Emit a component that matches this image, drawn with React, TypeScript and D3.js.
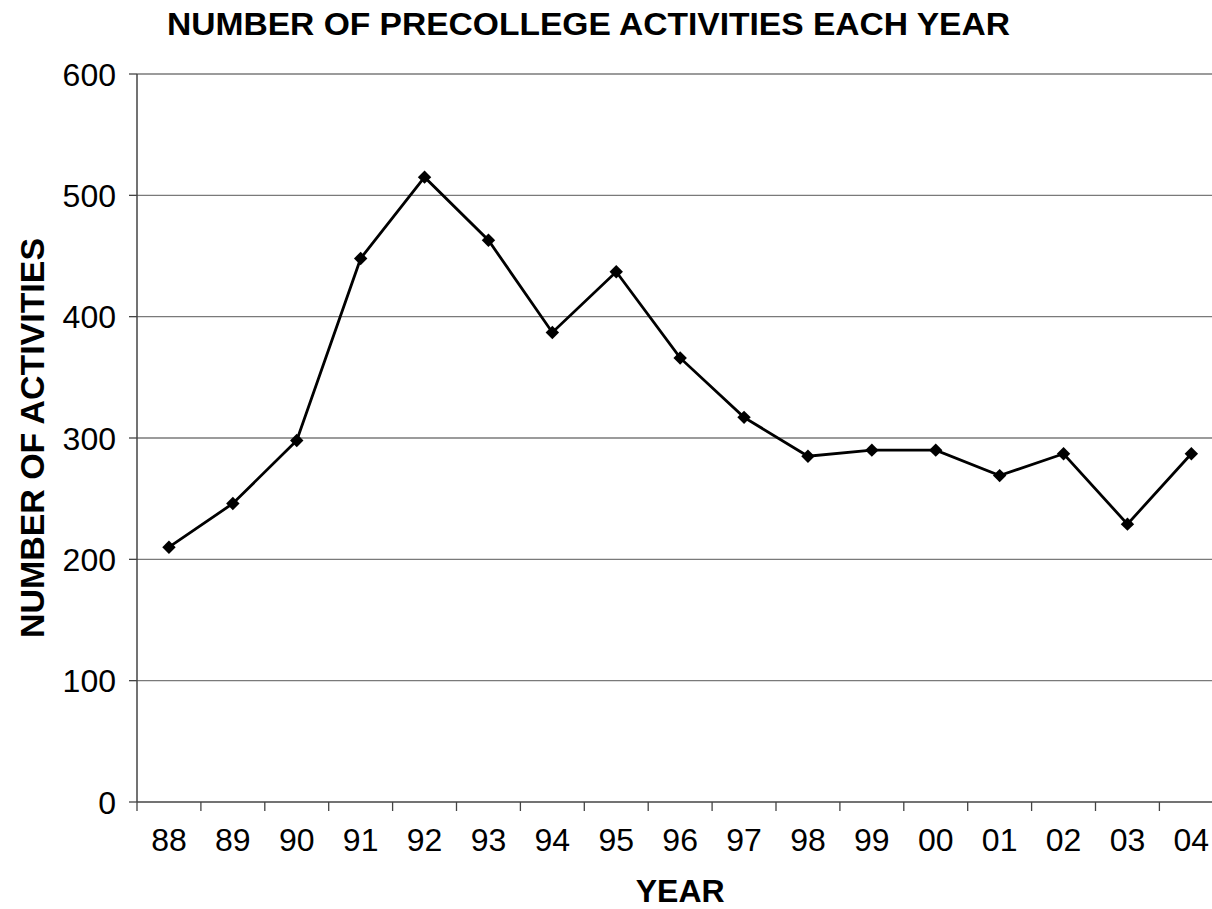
import * as React from "react";
import * as d3 from "d3";

// data
const years: string[] = ["88", "89", "90", "91", "92", "93", "94", "95", "96", "97", "98", "99", "00", "01", "02", "03", "04"];
const activities: number[] = [210, 246, 298, 448, 515, 463, 387, 437, 366, 317, 285, 290, 290, 269, 287, 229, 287];
const yTicks: number[] = [0, 100, 200, 300, 400, 500, 600];

const title = "NUMBER OF PRECOLLEGE ACTIVITIES EACH YEAR";
const xTitle = "YEAR";
const yTitle = "NUMBER OF ACTIVITIES";

const svgWidth = 1212;
const svgHeight = 909;
const left = 137;
const top = 74;
const bottom = 802;
const bandW = 63.9;
const right = left + bandW * years.length;

const font = "'Liberation Sans', Arial, Helvetica, sans-serif";

const xScale = d3.scaleBand<string>().domain(years).range([left, right]).padding(0);
const yScale = d3.scaleLinear().domain([0, 600]).range([bottom, top]);

const line = d3
  .line<number>()
  .x((d, i) => xScale(years[i])! + xScale.bandwidth() / 2)
  .y(d => yScale(d));

const diamond = d3.symbol().type(d3.symbolSquare).size(90)();

export default function App() {
  const bounds = [...years.map(y => xScale(y)!), right];
  return (
    <svg
      width={svgWidth}
      height={svgHeight}
      style={{ position: "absolute", left: 0, top: 0, background: "#fff" }}
      fontFamily={font}
    >
      {/* gridlines */}
      {yTicks.slice(1).map(t => (
        <line key={t} x1={left} x2={right} y1={yScale(t)} y2={yScale(t)} stroke="#7a7a7a" strokeWidth={1.3} />
      ))}
      {/* axes */}
      <line x1={left} x2={left} y1={top} y2={bottom} stroke="#444" strokeWidth={1.5} />
      <line x1={left} x2={right} y1={bottom} y2={bottom} stroke="#444" strokeWidth={1.5} />
      {yTicks.map(t => (
        <g key={t}>
          <line x1={left - 8} x2={left} y1={yScale(t)} y2={yScale(t)} stroke="#444" strokeWidth={1.3} />
          <text x={116} y={yScale(t)} dy="0.36em" textAnchor="end" fontSize={32} fill="#000">
            {t}
          </text>
        </g>
      ))}
      {bounds.map((b, i) => (
        <line key={i} x1={b} x2={b} y1={bottom} y2={bottom + 9} stroke="#444" strokeWidth={1.3} />
      ))}
      {years.map(y => (
        <text key={y} x={xScale(y)! + xScale.bandwidth() / 2} y={851} textAnchor="middle" fontSize={32} fill="#000">
          {y}
        </text>
      ))}
      {/* series */}
      <path d={line(activities)!} fill="none" stroke="#000" strokeWidth={2.8} strokeLinejoin="miter" />
      {activities.map((v, i) => (
        <path
          key={i}
          d={diamond!}
          transform={`translate(${xScale(years[i])! + xScale.bandwidth() / 2},${yScale(v)}) rotate(45)`}
          fill="#000"
        />
      ))}
      {/* titles */}
      <text x={167} y={35} fontSize={31} fontWeight="bold" textLength={843} lengthAdjust="spacingAndGlyphs">
        {title}
      </text>
      <text x={(left + right) / 2} y={902} textAnchor="middle" fontSize={32} fontWeight="bold">
        {xTitle}
      </text>
      <text
        transform={`translate(44,${(top + bottom) / 2}) rotate(-90)`}
        textAnchor="middle"
        fontSize={33}
        fontWeight="bold"
        textLength={400}
        lengthAdjust="spacingAndGlyphs"
      >
        {yTitle}
      </text>
    </svg>
  );
}
